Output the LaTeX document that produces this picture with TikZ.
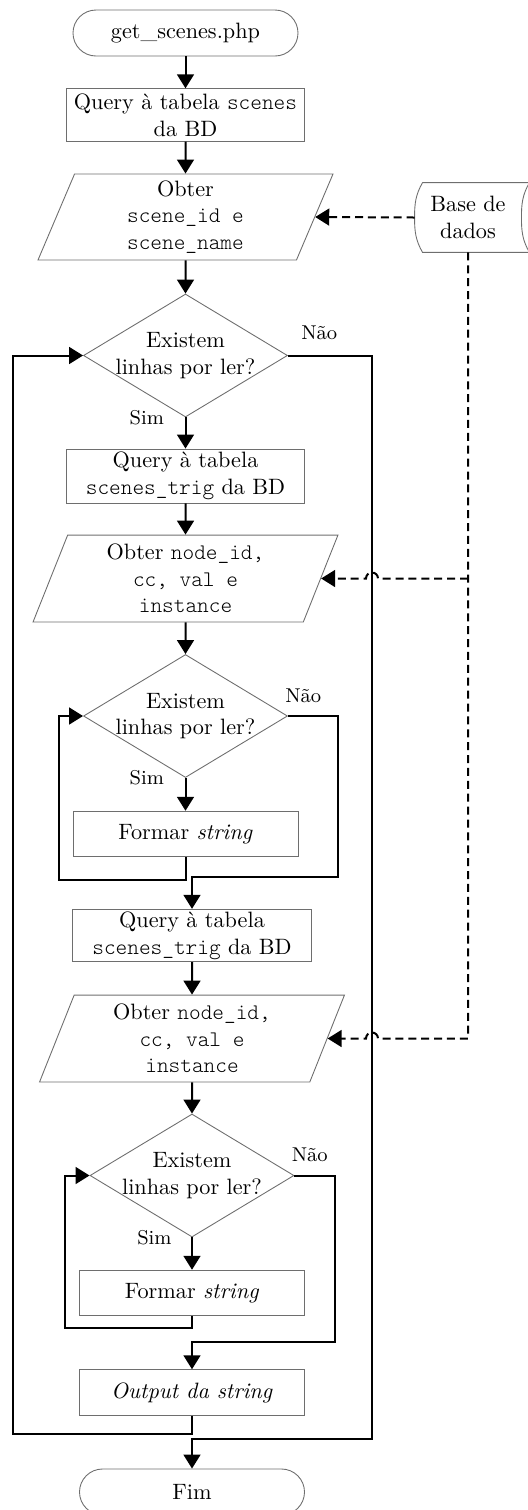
\documentclass[tikz,border=0pt]{standalone}
\usepackage{amsmath}
\usepackage{xcolor}
\usetikzlibrary{calc}
\usetikzlibrary{positioning}
\usetikzlibrary{arrows.meta}
\usetikzlibrary{shapes.geometric}
\usetikzlibrary{shapes.misc}
\definecolor{shape-grey}{RGB}{110, 110, 110}
\newcommand{\code}[1]{{\ttfamily\fontseries{l}\selectfont #1}}

\tikzset{
  terminal/.style={rounded rectangle, draw=shape-grey, line width=0.4pt, minimum width=101.25pt, minimum height=20.7pt, inner sep=0pt},
  process/.style={rectangle, draw=shape-grey, line width=0.4pt, minimum width=107.4pt, minimum height=23.6pt, inner sep=0pt, align=center},
  smallprocess/.style={process, minimum width=101.25pt, minimum height=20.5pt},
  io/.style={trapezium, trapezium left angle=63.4, trapezium right angle=116.6, trapezium stretches body, draw=shape-grey, line width=0.4pt, minimum width=137.2pt, minimum height=39.1pt, inner sep=0pt, align=center},
  decision/.style={diamond, draw=shape-grey, line width=0.4pt, minimum width=91.8pt, minimum height=55.35pt, inner sep=0pt},
  flow/.style={line width=0.9pt, -{Triangle[length=6.3pt,width=7.6pt]}},
  dataflow/.style={flow, dash pattern=on 3.6pt off 2.2pt},
  answer/.style={inner sep=0pt, font=\small},
}

\begin{document}
\begin{tikzpicture}[x=0.45pt, y=0.45pt]
\useasboundingbox (0,0) rectangle (528,-1510);

\node[terminal] (start) at (185.5,-33) {get\_scenes.php};
\node[process] (q1) at (185.5,-115) {Query à tabela \code{scenes}\\da BD};
\node[io, minimum width=132.75pt, minimum height=38.7pt] (in1) at (185.5,-217) {Obter\\\code{scene\_id e}\\\code{scene\_name}};
\node[minimum width=47.7pt, minimum height=31pt, inner sep=0pt, align=center] (bd) at (468,-217.5) {Base de\\dados};
\draw[draw=shape-grey, line width=0.4pt] ([xshift=3.6pt]bd.north west) to[out=240,in=90] (bd.west) to[out=-90,in=120] ([xshift=3.6pt]bd.south west)
  -- ([xshift=3.6pt]bd.south east) to[out=120,in=-90] (bd.east) to[out=90,in=240] ([xshift=3.6pt]bd.north east) -- cycle;

\node[decision] (dec1) at (185.5,-355.5) {};
\node[align=center] (dec1txt) at (dec1) {Existem\\linhas por ler?};
\node[process, minimum height=24.3pt] (q2) at (185.5,-476) {Query à tabela\\\code{scenes\_trig} da BD};
\node[io] (in2) at (185.5,-578.5) {Obter \code{node\_id,}\\\code{cc, val e}\\\code{instance}};
\node[decision] (dec2) at (185.5,-716) {};
\node[align=center] (dec2txt) at (dec2) {Existem\\linhas por ler?};
\node[smallprocess] (form1) at (185.5,-834) {Formar \textit{string}};

\node[process] (q3) at (192,-935.5) {Query à tabela\\\code{scenes\_trig} da BD};
\node[io] (in3) at (192,-1038.5) {Obter \code{node\_id,}\\\code{cc, val e}\\\code{instance}};
\node[decision] (dec3) at (192,-1175.5) {};
\node[align=center] (dec3txt) at (dec3) {Existem\\linhas por ler?};
\node[smallprocess] (form2) at (192,-1293) {Formar \textit{string}};
\node[smallprocess] (out) at (192,-1392.5) {\textit{Output da string}};
\node[terminal] (fim) at (192,-1492) {Fim};

\node[answer, left=9.5pt of dec1.south] (sim1) {Sim};
\node[answer, above right=6.7pt and 5.8pt of dec1.east] (nao1lbl) {Não};
\node[answer, left=9.5pt of dec2.south] (sim2) {Sim};
\node[answer, above right=5.9pt and -1.4pt of dec2.east] (nao2lbl) {Não};
\node[answer, left=9pt of dec3.south] (sim3) {Sim};
\node[answer, above right=5.9pt and -1.4pt of dec3.east] (nao3lbl) {Não};

\draw[flow] (start.south) -- (q1.north);
\draw[flow] (q1.south) -- (in1.north);
\draw[flow] (in1.south) -- (dec1.north);
\draw[flow] (dec1.south) -- (q2.north);
\draw[flow] (q2.south) -- (in2.north);
\draw[flow] (in2.south) -- (dec2.north);
\draw[flow] (dec2.south) -- (form1.north);
\draw[flow] (q3.south) -- (in3.north);
\draw[flow] (in3.south) -- (dec3.north);
\draw[flow] (dec3.south) -- (form2.north);

\coordinate (nao1) at (372,-1439);
\coordinate (back1) at (13,-1434);
\draw[flow] (dec1.east) -| (nao1) -| (fim.north);
\draw[flow] (out.south) |- (back1) |- (dec1.west);

\coordinate (nao2) at (338,-877);
\coordinate (back2) at (59,-880);
\draw[flow] (dec2.east) -| (nao2) -| (q3.north);
\draw[flow] (form1.south) |- (back2) |- (dec2.west);

\coordinate (nao3) at (335,-1342);
\coordinate (back3) at (65,-1328);
\draw[flow] (dec3.east) -| (nao3) -| (out.north);
\draw[flow] (form2.south) |- (back3) |- (dec3.west);

\coordinate (tap) at (bd.south |- in2.east);
\coordinate (hop2) at ($(nao1 |- in2.east)+(6,0)$);
\coordinate (hop3) at ($(nao1 |- in3.east)+(6,0)$);
\draw[dataflow] (bd.west) -- (in1.east);
\draw[dataflow] (tap) -- (hop2) arc[start angle=0, end angle=180, radius=6] -- (in2.east);
\draw[dataflow] (bd.south) |- (hop3) arc[start angle=0, end angle=180, radius=6] -- (in3.east);
\end{tikzpicture}
\end{document}
